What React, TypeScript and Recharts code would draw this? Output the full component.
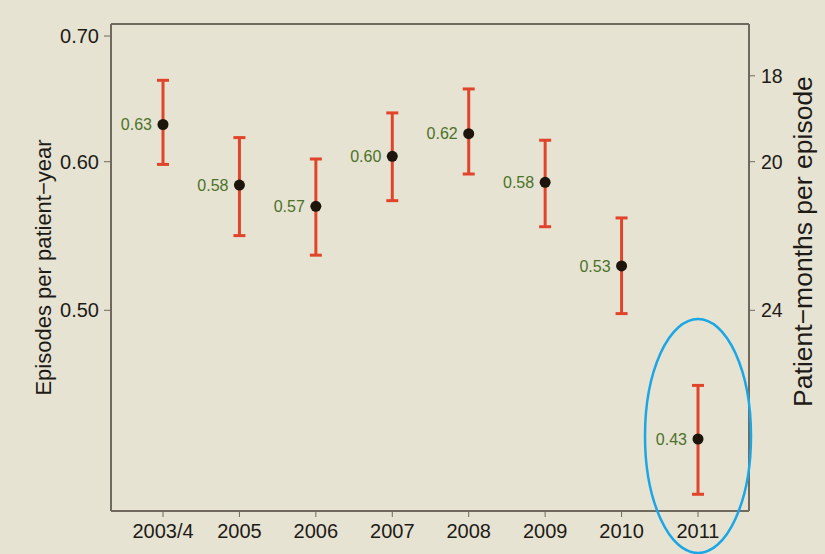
import React from 'react';
import { LineChart, Line, XAxis, YAxis, ErrorBar, LabelList, ReferenceDot, ReferenceLine } from 'recharts';

const years = ['2003/4', '2005', '2006', '2007', '2008', '2009', '2010', '2011'];
const rate = [0.628, 0.583, 0.568, 0.604, 0.621, 0.585, 0.528, 0.427];
const lower = [0.598, 0.548, 0.535, 0.572, 0.591, 0.554, 0.498, 0.399];
const upper = [0.663, 0.618, 0.602, 0.637, 0.656, 0.616, 0.56, 0.456];
const rateLabels = ['0.63', '0.58', '0.57', '0.60', '0.62', '0.58', '0.53', '0.43'];
const leftTicks = [0.5, 0.6, 0.7];
const rightTicks = [18, 20, 24];
const leftDomain = [0.3909, 0.7104];
const highlightYear = '2011';

const data = years.map((y, i) => ({
  year: y,
  rate: rate[i],
  err: [rate[i] - lower[i], upper[i] - rate[i]],
  label: rateLabels[i],
  months: 12 / rate[i],
}));

const rightDomain = [12 / leftDomain[1], 12 / leftDomain[0]];

const BG = '#e6e3d3';
const AXIS = '#6f695e';
const TEXT = '#1e1b17';
const FONT = '"Liberation Sans", Arial, sans-serif';

const LeftTitle = (props: any) => {
  const vb = props.viewBox || {};
  const x = vb.x + 43;
  const y = vb.y + vb.height / 2;
  return (
    <text x={x} y={y} transform={`rotate(-90 ${x} ${y})`} textAnchor="middle" dominantBaseline="central"
      fontSize={22} fill={TEXT} fontFamily={FONT}>Episodes per patient−year</text>
  );
};

const RightTitle = (props: any) => {
  const vb = props.viewBox || {};
  const x = vb.x + 54;
  const y = vb.y + vb.height / 2 - 26;
  return (
    <text x={x} y={y} transform={`rotate(-90 ${x} ${y})`} textAnchor="middle" dominantBaseline="central"
      fontSize={26.5} fill={TEXT} fontFamily={FONT}>Patient−months per episode</text>
  );
};

const Ellipse = (props: any) => (
  <ellipse cx={props.cx} cy={props.cy - 3} rx={53} ry={117} fill="none" stroke="#1ba6e6" strokeWidth={2.5} />
);

export default function App() {
  return (
    <div style={{ position: 'absolute', left: 0, top: 0, width: 825, height: 554, background: BG }}>
      <LineChart width={825} height={554} data={data} margin={{ top: 24, right: 0, bottom: 0, left: 0 }}>
        <XAxis dataKey="year" scale="point" padding={{ left: 52, right: 51 }} height={43}
          axisLine={{ stroke: AXIS, strokeWidth: 2 }} tickLine={{ stroke: AXIS }} tickSize={6} tickMargin={7}
          tick={{ fontSize: 20, fill: TEXT, fontFamily: FONT }} interval={0} />
        <YAxis yAxisId="left" type="number" scale="log" domain={leftDomain} allowDataOverflow ticks={leftTicks}
          tickFormatter={(v: number) => v.toFixed(2)} width={111}
          axisLine={{ stroke: AXIS, strokeWidth: 2 }} tickLine={{ stroke: AXIS }} tickSize={7} tickMargin={5}
          tick={{ fontSize: 20, fill: TEXT, fontFamily: FONT }} label={<LeftTitle />} />
        <YAxis yAxisId="right" orientation="right" type="number" scale="log" reversed domain={rightDomain}
          allowDataOverflow ticks={rightTicks} width={76}
          axisLine={{ stroke: AXIS, strokeWidth: 2 }} tickLine={{ stroke: AXIS }} tickSize={6} tickMargin={6}
          tick={{ fontSize: 19.5, fill: TEXT, fontFamily: FONT }} label={<RightTitle />} />
        <ReferenceLine yAxisId="left" y={leftDomain[1]} stroke={AXIS} strokeWidth={2} ifOverflow="visible" />
        <Line yAxisId="right" dataKey="months" stroke="none" dot={false} activeDot={false} isAnimationActive={false} />
        <Line yAxisId="left" dataKey="rate" stroke="none" isAnimationActive={false} activeDot={false}
          dot={{ r: 5.5, fill: '#1d150c', stroke: 'none' }}>
          <ErrorBar dataKey="err" width={6} stroke="#e0452c" strokeWidth={3} direction="y" />
          <LabelList dataKey="label" position="left" offset={11} fontSize={16} fill="#4c7228" fontFamily={FONT} />
        </Line>
        <ReferenceDot yAxisId="left" x={highlightYear} y={rate[years.indexOf(highlightYear)]} ifOverflow="visible" shape={<Ellipse />} />
      </LineChart>
    </div>
  );
}
